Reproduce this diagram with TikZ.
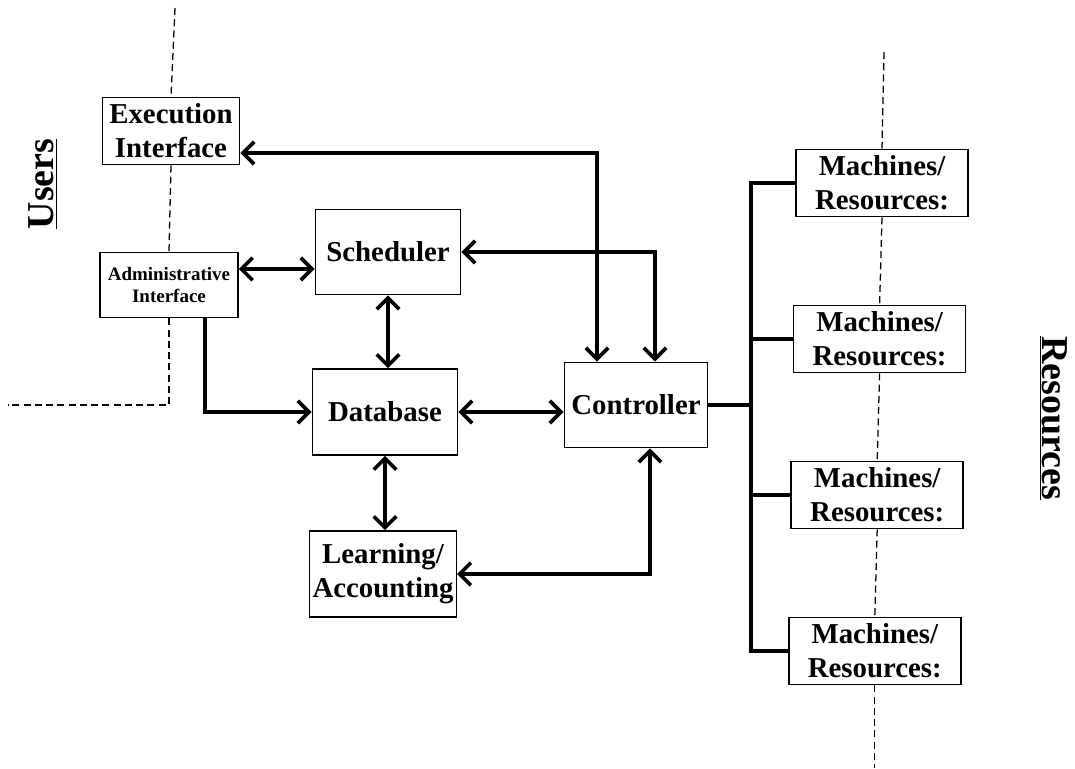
\documentclass[tikz,border=0pt]{standalone}
\usepackage{fontspec}
\setmainfont{Liberation Serif}
\usetikzlibrary{arrows.meta, positioning}

\begin{document}
\begin{tikzpicture}[
    x=0.025cm, y=-0.025cm,
    node distance=2.18cm,
    box/.style={rectangle, draw, line width=1.1pt, inner sep=2pt, align=center, font=\fontsize{20.5}{24}\selectfont\bfseries},
    mbox/.style={box, minimum width=4.3cm, minimum height=1.68cm},
    arrow/.style={{Straight Barb[length=8pt,width=16pt]}-{Straight Barb[length=8pt,width=16pt]}, line width=2.6pt},
    tip/.style={-{Straight Barb[length=8pt,width=16pt]}, line width=2.6pt},
    link/.style={line width=2.6pt},
    border/.style={line width=0.9pt, dash pattern=on 5pt off 3pt},
    side/.style={font=\fontsize{27}{30}\selectfont\bfseries}
]

\useasboundingbox (0,0) rectangle (1075,768);

% Users side
\node[side, rotate=90] (users) at (43,184) {\underline{Users}};
\node[box, minimum width=3.43cm, minimum height=1.68cm] (exec) at (171,131) {Execution\\Interface};
\node[box, minimum width=3.45cm, minimum height=1.63cm, font=\fontsize{13.5}{16}\selectfont\bfseries] (admin) at (169,285) {Administrative\\Interface};

% Core
\node[box, minimum width=3.63cm, minimum height=2.13cm] (sched) at (388,252) {Scheduler};
\node[box, minimum width=3.63cm, minimum height=2.15cm] (db) at (385,412) {Database};
\node[box, minimum width=3.58cm, minimum height=2.15cm] (learn) at (383,574) {Learning/\\Accounting};
\node[box, minimum width=3.58cm, minimum height=2.13cm] (ctrl) at (636,405) {Controller};

% Resources side
\node[mbox] (m1) at (882,183) {Machines/\\Resources:};
\node[mbox, below=of m1, xshift=-0.06cm] (m2) {Machines/\\Resources:};
\node[mbox, below=of m2, xshift=-0.06cm] (m3) {Machines/\\Resources:};
\node[mbox, below=of m3, xshift=-0.06cm] (m4) {Machines/\\Resources:};
\node[side, rotate=-90] (res) at (1053,418) {\underline{Resources}};

% Dashed borders
\coordinate (utop) at (175,8);
\coordinate (uend) at (8,405);
\coordinate (rtop) at (884,52);
\coordinate (rbot) at (877,768);
\draw[border] (utop) -- (exec.north);
\draw[border] (exec.south) -- (admin.north);
\draw[border] (admin.south) |- (uend);
\draw[border] (rtop) -- (m1.north);
\draw[border] (m1.south) -- (m2.north);
\draw[border] (m2.south) -- (m3.north);
\draw[border] (m3.south) -- (m4.north);
\draw[border] (m4.south) -- (m4.south |- rbot);

% Arrows - to controller
\draw[arrow] ([yshift=-0.55cm]exec.east) -| ([xshift=-0.975cm]ctrl.north);
\draw[arrow] (sched.east) -| ([xshift=0.475cm]ctrl.north);
\draw[arrow] (learn.east) -| ([xshift=0.35cm]ctrl.south);

% Arrows - admin
\coordinate (adm1) at ([yshift=0.4cm]admin.east);
\draw[arrow] (adm1) -- (adm1 -| sched.west);
\draw[tip] ([xshift=0.9cm]admin.south) |- (db.west);

% Arrows - database
\draw[arrow] (sched.south) -- (sched.south |- db.north);
\draw[arrow] (db.east) -- (db.east -| ctrl.west);
\draw[arrow] (db.south) -- (db.south |- learn.north);

% Machine bus
\coordinate (bus) at (751,0);
\draw[link] (ctrl.east) -- (ctrl.east -| bus);
\draw[link] (m1.west) -| (bus |- m4.west) -- (m4.west);
\foreach \m in {m2,m3}
    \draw[link] (\m.west -| bus) -- (\m.west);

\end{tikzpicture}
\end{document}
